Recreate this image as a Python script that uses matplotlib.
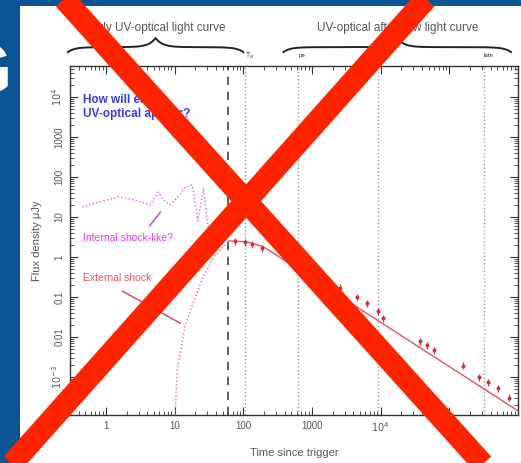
import numpy as np
import matplotlib
matplotlib.use("Agg")
import matplotlib.pyplot as plt
from matplotlib.lines import Line2D
from matplotlib.patches import Rectangle
from matplotlib.transforms import blended_transform_factory

plt.rcParams['font.family'] = ['Liberation Sans', 'DejaVu Sans']

# early prompt emission, internal-shock-like (time s, flux uJy)
internal_t = [0.45, 0.69, 1.07, 1.58, 2.45, 3.7, 4.4, 5.8, 6.8, 8.5, 11.2, 14.1, 18.2, 21.9, 26.3, 29.5, 32.0]
internal_f = [18, 22, 27, 32, 27, 22, 20, 42, 27, 20, 32, 54, 63, 8, 54, 9, 4]

# external shock rise (dotted)
rise_t = [10.2, 10.9, 14.2, 18.6, 26.1, 38.9, 60.0]
rise_f = [1.1e-4, 1.5e-3, 0.018, 0.071, 0.32, 1.1, 2.3]

# afterglow model line
model_t = [60, 110, 195, 1.0e6]
model_f = [2.5, 2.4, 1.8, 1.4e-4]

# afterglow photometry
obs_t = [76, 107, 135, 190, 1860, 2600, 4600, 6400, 9100, 1.1e4, 3.8e4, 4.7e4, 5.9e4,
         1.6e5, 2.7e5, 3.6e5, 5.1e5, 7.4e5]
obs_f = [2.5, 2.37, 2.1, 1.7, 0.22, 0.17, 0.10, 0.071, 0.045, 0.030, 0.0079, 0.0063, 0.0047,
         0.0019, 0.0010, 0.00075, 0.00053, 0.0003]

t_dashed = 60
t_dotted = [107, 630, 9100, 3.2e5]

yticks = [1e-3, 1e-2, 1e-1, 1, 10, 100, 1000, 1e4]
ytick_labels = [r'$10^{-3}$', '0.01', '0.1', '1', '10', '100', '1000', r'$10^{4}$']
xticks = [1, 10, 100, 1000, 1e4, 1e5]
xtick_labels = ['1', '10', '100', '1000', r'$10^{4}$', r'$10^{5}$']

W, H = 521, 463
fig = plt.figure(figsize=(W / 100, H / 100), dpi=100)
fig.patch.set_facecolor('#0b5595')
fig.add_artist(Rectangle((20 / W, 0), 1, 1 - 6 / H, transform=fig.transFigure,
                         facecolor='white', edgecolor='none', zorder=0))
# tail of the slide title letter, cut by the panel edge
fig.text(12 / W, 1 - 75 / H, 'G', color='white', fontsize=52, fontweight='bold',
         ha='right', va='center', zorder=1)

ax = fig.add_axes([70 / W, (H - 415) / H, 448 / W, 349 / H])
ax.set_facecolor('white')
ax.set_xscale('log')
ax.set_yscale('log')
ax.set_xlim(0.3, 1.0e6)
ax.set_ylim(1.1e-4, 6.0e4)

grey = '#555555'
for s in ax.spines.values():
    s.set_color('#333333')
    s.set_linewidth(1.0)
ax.tick_params(which='both', direction='in', top=True, right=True, colors='#333333',
               labelcolor=grey, labelsize=7)
ax.tick_params(which='major', length=6)
ax.tick_params(which='minor', length=3)
ax.tick_params(axis='x', pad=4)
ax.tick_params(axis='y', pad=4)
ax.set_xticks(xticks)
ax.set_xticklabels(xtick_labels)
ax.set_yticks(yticks)
ax.set_yticklabels(ytick_labels, rotation=90, va='center')

ax.set_xlabel('Time since trigger', color=grey, fontsize=8, labelpad=10)
ax.set_ylabel('Flux density μJy', color=grey, fontsize=8, labelpad=6)

# vertical markers
ax.axvline(t_dashed, color='#444444', lw=1.2, dashes=(5, 4))
for t in t_dotted:
    ax.axvline(t, color='#9a9a9a', lw=1.0, ls=':')

# curves
ax.plot(internal_t, internal_f, color='#e060e0', lw=1.0, ls=':')
ax.plot(rise_t, rise_f, color='#e07080', lw=1.0, ls=':')
ax.plot(model_t, model_f, color='#e05462', lw=1.0)
obs_f_arr = np.array(obs_f)
ax.errorbar(obs_t, obs_f, yerr=0.2 * obs_f_arr, fmt='o', ms=1.8, color='#c83040',
            elinewidth=0.9, capsize=0)

# annotations
ax.text(0.46, 10 ** 3.75, 'How will early\nUV-optical appear?', color='#3a3ad8',
        fontsize=8.5, fontweight='bold', va='center', linespacing=1.25)
ax.text(0.46, 3.0, 'Internal shock-like?', color='#e040e0', fontsize=7.5, va='center')
ax.annotate('', xy=(6.6, 15), xytext=(4.1, 5.3),
            arrowprops=dict(arrowstyle='-', color='#b040c0', lw=1))
ax.text(0.46, 0.3, 'External shock', color='#e05060', fontsize=7.5, va='center')
ax.annotate('', xy=(13.3, 0.02), xytext=(1.6, 0.15),
            arrowprops=dict(arrowstyle='-', color='#d04060', lw=1))

# curly braces above the panel
bt = blended_transform_factory(ax.transData, ax.transAxes)


def brace(t0, t1, y_end=1.040, y_body=1.054, y_tip=1.080, w=0.10):
    u0, u1 = np.log10(t0), np.log10(t1)
    um = 0.5 * (u0 + u1)
    ul = np.linspace(u0, um, 150)
    yl = (y_end + (y_body - y_end) * (1 - np.exp(-(ul - u0) / w))
          + (y_tip - y_body) * np.exp(-(um - ul) / w))
    u = np.concatenate([ul, 2 * um - ul[::-1]])
    y = np.concatenate([yl, yl[::-1]])
    ax.plot(10 ** u, y, color='#222222', lw=1.4, transform=bt, clip_on=False)
    return 10 ** um


m1 = brace(0.28, 100)
m2 = brace(385, 7.9e5)
ax.text(m1, 1.109, 'Early UV-optical light curve', transform=bt, ha='center',
        va='center', fontsize=8.5, color=grey)
ax.text(m2, 1.109, 'UV-optical afterglow light curve', transform=bt, ha='center',
        va='center', fontsize=8.5, color=grey)
ax.text(107, 1.030, r'T$_a$', transform=bt, fontsize=5, color='#333333', ha='left', va='center')
ax.text(630, 1.030, 'pe', transform=bt, fontsize=4.5, color='#333333', ha='left', va='center')
ax.text(3.2e5, 1.030, 'late', transform=bt, fontsize=4.5, color='#333333', ha='left', va='center')

# big red cross over everything
for (xa, ya), (xb, yb) in [((47, -20), (500, 483)), ((443, -20), (-5, 483))]:
    fig.add_artist(Line2D([xa / W, xb / W], [1 - ya / H, 1 - yb / H], transform=fig.transFigure,
                          color='#fe2400', lw=16, solid_capstyle='butt', zorder=10))

fig.savefig('out.png', dpi=100, facecolor=fig.get_facecolor())
